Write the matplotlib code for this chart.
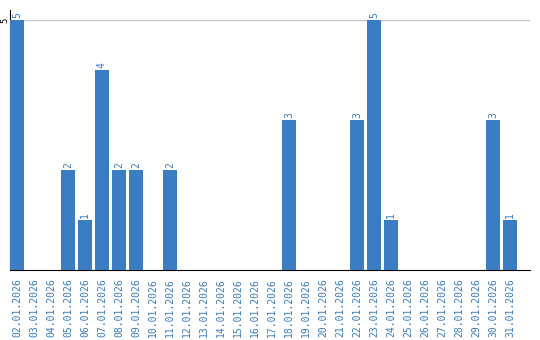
import matplotlib
matplotlib.use("Agg")
import matplotlib.pyplot as plt

dates = ["%02d.01.2026" % d for d in range(2, 32)]
values = [5, 0, 0, 2, 1, 4, 2, 2, 0, 2, 0, 0, 0, 0, 0, 0, 3, 0, 0, 0, 3, 5, 1, 0, 0, 0, 0, 0, 3, 1]

bar_color = "#3b7dc3"
text_color = "#3a7bbf"

fig = plt.figure(figsize=(5.4, 3.4), dpi=100)
ax = fig.add_axes([10/540, 70/340, 520/540, 260/340])
x = list(range(len(dates)))
ax.bar(x, values, width=14/17, color=bar_color, zorder=3)
for xi, v in zip(x, values):
    if v > 0:
        ax.text(xi, v + 0.04, str(v), rotation=90, ha="center", va="bottom",
                fontsize=7, family="DejaVu Sans Mono", color=text_color, zorder=4)

ax.set_xlim(-7/17, 30.18)
ax.set_ylim(0, 5.2)
ax.axhline(5, color="#c8c8c8", lw=1, zorder=1)
ax.set_yticks([5])
ax.set_yticklabels(["5"], rotation=90, va="center", fontsize=6.5, family="DejaVu Sans Mono")
ax.tick_params(axis="y", length=0, pad=0.5)
ax.set_xticks(x)
ax.set_xticklabels(dates, rotation=90, fontsize=7, family="DejaVu Sans Mono", color=text_color)
ax.tick_params(axis="x", length=0, pad=6)
for s in ["top", "right"]:
    ax.spines[s].set_visible(False)
ax.spines["bottom"].set_color("black")
ax.spines["left"].set_color("black")
fig.savefig("out.png", dpi=100)
